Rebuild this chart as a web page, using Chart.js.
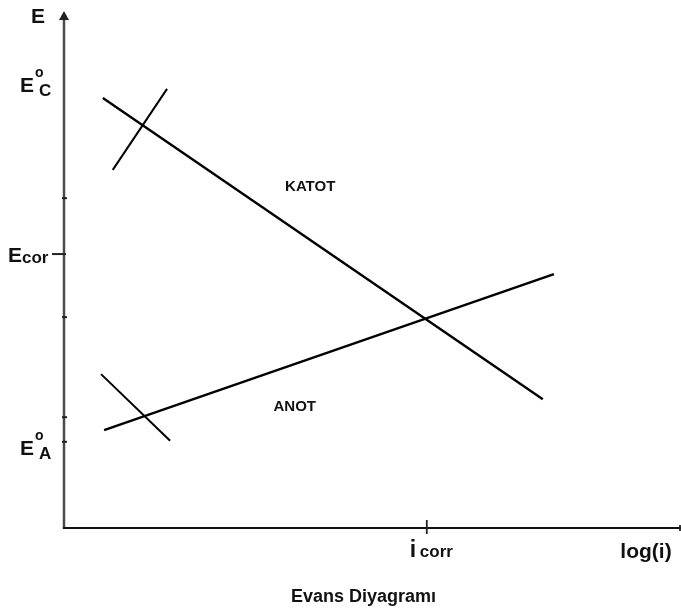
<!DOCTYPE html>
<html>
<head>
<meta charset="utf-8">
<script src="https://cdn.jsdelivr.net/npm/chart.js@4.4.0/dist/chart.umd.min.js"></script>
<style>
  html, body { margin: 0; padding: 0; background: #ffffff; }
  #wrap { width: 681px; height: 610px; }
</style>
</head>
<body>
<div id="wrap"><canvas id="c" width="681" height="610"></canvas></div>
<script>
// ---- Data (arbitrary units: x = log(i), y = E) ----
const katotX = [0.63, 7.76];
const katotE = [8.38, 2.51];
const anotX = [0.65, 7.94];
const anotE = [1.91, 4.95];
const katotTafelX = [0.79, 1.67];
const katotTafelE = [6.98, 8.56];
const anotTafelX = [0.60, 1.72];
const anotTafelE = [3.00, 1.70];

const yTickValues = [6.43, 5.34, 4.11, 2.16, 1.68];
const yLongTick = 5.34;
const yLabelNames = ['E°C', 'Ecor', 'E°A'];
const yLabelValues = [8.64, 5.34, 1.55];
const xTickValues = [5.88];
const xTickLabel = 'i corr';
const xAxisTitle = 'log(i)';
const yAxisTitle = 'E';
const seriesNames = ['KATOT', 'ANOT'];
const seriesLabelX = [3.99, 3.74];
const seriesLabelE = [6.69, 2.40];
const chartTitle = 'Evans Diyagramı';

const xRange = [0, 10];
const yRange = [0, 10];

function pts(xs, ys) { return xs.map((x, i) => ({ x: x, y: ys[i] })); }
const FONT = '"Liberation Sans", Arial, sans-serif';

const lineStyle = { showLine: true, pointRadius: 0, borderColor: '#000', borderWidth: 2.4, fill: false, tension: 0 };

const axesPlugin = {
  id: 'evansAxes',
  afterDraw(chart) {
    const ctx = chart.ctx;
    const xs = chart.scales.x, ys = chart.scales.y;
    const x0 = xs.getPixelForValue(xRange[0]);
    const x1 = xs.getPixelForValue(xRange[1]);
    const y0 = ys.getPixelForValue(yRange[0]);
    const y1 = ys.getPixelForValue(yRange[1]);
    ctx.save();
    // y axis
    ctx.strokeStyle = '#4a4a4a';
    ctx.lineWidth = 2.5;
    ctx.beginPath(); ctx.moveTo(x0, y0 + 1); ctx.lineTo(x0, y1 + 2); ctx.stroke();
    // arrow head
    ctx.fillStyle = '#222';
    ctx.beginPath();
    ctx.moveTo(x0, y1 - 4); ctx.lineTo(x0 - 5, y1 + 5); ctx.lineTo(x0 + 5, y1 + 5); ctx.closePath(); ctx.fill();
    // x axis
    ctx.strokeStyle = '#111';
    ctx.lineWidth = 1.8;
    ctx.beginPath(); ctx.moveTo(x0 - 1, y0); ctx.lineTo(x1, y0); ctx.stroke();
    // y ticks
    ctx.lineWidth = 2;
    ctx.strokeStyle = '#222';
    yTickValues.forEach(v => {
      const py = ys.getPixelForValue(v);
      ctx.beginPath();
      if (v === yLongTick) { ctx.moveTo(x0 - 12, py); ctx.lineTo(x0 + 2, py); }
      else { ctx.moveTo(x0 - 2, py); ctx.lineTo(x0 + 3, py); }
      ctx.stroke();
    });
    // x ticks
    ctx.lineWidth = 1.8;
    xTickValues.forEach(v => {
      const px = xs.getPixelForValue(v);
      ctx.beginPath(); ctx.moveTo(px, y0 - 8); ctx.lineTo(px, y0 + 6); ctx.stroke();
    });
    // right end small tick
    ctx.beginPath(); ctx.moveTo(x1 - 1, y0 - 3); ctx.lineTo(x1 - 1, y0 + 3); ctx.stroke();

    ctx.fillStyle = '#111';
    ctx.textBaseline = 'alphabetic';
    // axis title E
    ctx.font = 'bold 21px ' + FONT;
    ctx.textAlign = 'left';
    ctx.fillText(yAxisTitle, x0 - 33, y1 + 8);

    // y labels with sub/superscripts
    yLabelNames.forEach((name, i) => {
      const py = ys.getPixelForValue(yLabelValues[i]);
      if (name.indexOf('°') >= 0) {
        const sub = name.split('°')[1];
        const lx = x0 - 44;
        ctx.font = 'bold 21px ' + FONT;
        ctx.fillText('E', lx, py + 7);
        ctx.font = 'bold 14px ' + FONT;
        ctx.fillText('o', lx + 15, py - 8);
        ctx.font = 'bold 17px ' + FONT;
        ctx.fillText(sub, lx + 19, py + 11);
      } else {
        const lx = x0 - 56;
        ctx.font = 'bold 21px ' + FONT;
        ctx.fillText('E', lx, py + 8);
        ctx.font = 'bold 17px ' + FONT;
        ctx.fillText(name.slice(1), lx + 14, py + 9);
      }
    });

    // x tick label i corr
    xTickValues.forEach(v => {
      const px = xs.getPixelForValue(v);
      const parts = xTickLabel.split(' ');
      ctx.font = 'bold 23px ' + FONT;
      ctx.fillText(parts[0], px - 17, y0 + 29);
      ctx.font = 'bold 17px ' + FONT;
      ctx.fillText(parts[1], px - 7, y0 + 29);
    });
    // x axis title
    ctx.font = 'bold 21px ' + FONT;
    ctx.textAlign = 'center';
    ctx.fillText(xAxisTitle, x1 - 35, y0 + 30);

    // series labels
    ctx.font = 'bold 15px ' + FONT;
    seriesNames.forEach((n, i) => {
      ctx.fillText(n, xs.getPixelForValue(seriesLabelX[i]), ys.getPixelForValue(seriesLabelE[i]) + 6);
    });

    // chart title below the plot
    ctx.font = 'bold 18px ' + FONT;
    ctx.fillText(chartTitle, (chart.width + x0) / 2 - 9, chart.height - 8);
    ctx.restore();
  }
};

new Chart(document.getElementById('c'), {
  type: 'scatter',
  data: {
    datasets: [
      Object.assign({ label: seriesNames[0], data: pts(katotX, katotE) }, lineStyle),
      Object.assign({ label: seriesNames[1], data: pts(anotX, anotE) }, lineStyle),
      Object.assign({ label: seriesNames[0] + ' Tafel', data: pts(katotTafelX, katotTafelE) }, lineStyle, { borderWidth: 2 }),
      Object.assign({ label: seriesNames[1] + ' Tafel', data: pts(anotTafelX, anotTafelE) }, lineStyle, { borderWidth: 2 })
    ]
  },
  options: {
    responsive: false,
    animation: false,
    devicePixelRatio: 1,
    layout: { padding: { left: 64, right: 0, top: 15, bottom: 82 } },
    scales: {
      x: { type: 'linear', display: false, min: xRange[0], max: xRange[1] },
      y: { type: 'linear', display: false, min: yRange[0], max: yRange[1] }
    },
    plugins: {
      legend: { display: false },
      tooltip: { enabled: false },
      title: { display: false }
    }
  },
  plugins: [axesPlugin]
});
</script>
</body>
</html>
